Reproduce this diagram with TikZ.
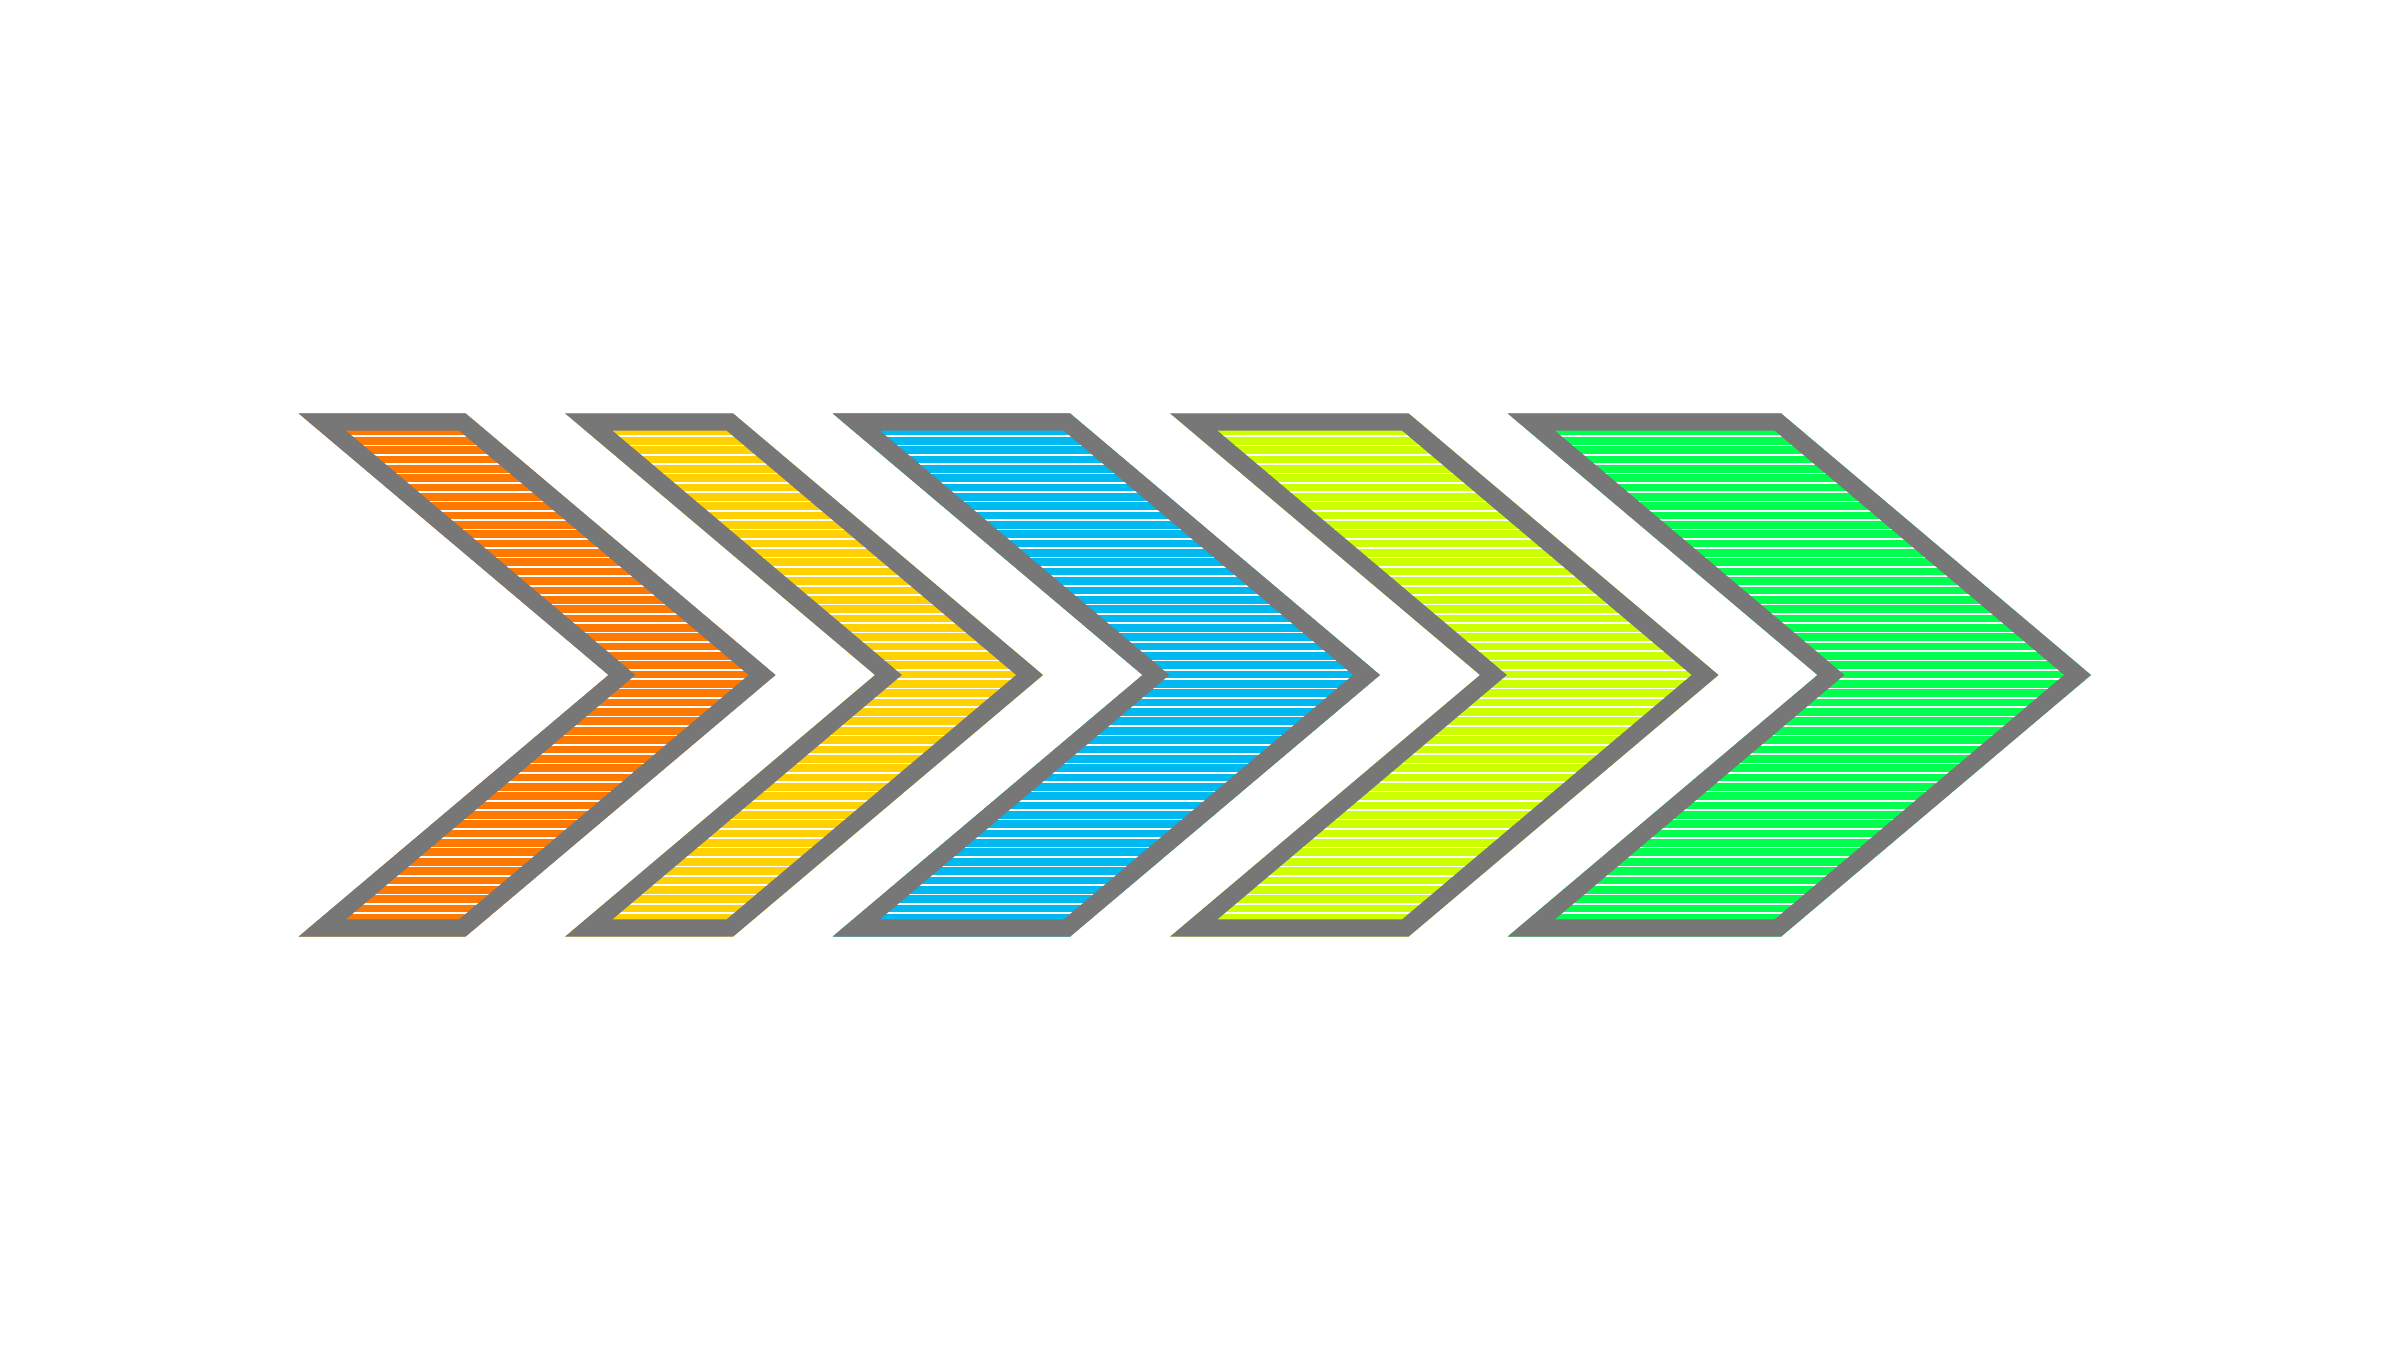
\documentclass[tikz,border=0pt]{standalone}
\usepackage{xcolor}
\definecolor{chevgray}{HTML}{777777}
\definecolor{chevorange}{HTML}{FF7800}
\definecolor{chevyellow}{HTML}{FFD100}
\definecolor{chevblue}{HTML}{00B9F1}
\definecolor{chevlime}{HTML}{CCFF00}
\definecolor{chevgreen}{HTML}{00FF4E}

\begin{document}
\begin{tikzpicture}[x=0.3pt,y=0.3pt,yscale=-1,xscale=1,
    chevron border/.style={draw=chevgray, line width=10.4pt, line join=miter},
    stripe/.style={draw=white, line width=0.5pt}]
    %set diagram left start at 0, 2400 wide and 1350 high
    \useasboundingbox (0,0) rectangle (2400,1350);

    %Shape: Chevrons, left edge / top right corner / fill colour
    \foreach \xa/\xb/\col in {298.5/465.5/chevorange, 565/733/chevyellow, 832.5/1070/chevblue, 1170/1408.5/chevlime, 1507.5/1781/chevgreen}{
        \begin{scope}
            \clip (\xa,413.3) -- (\xb,413.3) -- (\xb+310,675) -- (\xb,936.7) -- (\xa,936.7) -- (\xa+310,675) -- cycle;
            \fill [color=\col] (\xa,400) rectangle (\xb+320,950);
            % white lines
            \foreach \k in {-3,...,54}
                \draw [stripe] (\xa,436+9.355*\k) -- (\xb+320,436+9.355*\k);
            \draw [chevron border] (\xa,413.3) -- (\xb,413.3) -- (\xb+310,675) -- (\xb,936.7) -- (\xa,936.7) -- (\xa+310,675) -- cycle;
        \end{scope}
    }

\end{tikzpicture}
\end{document}
